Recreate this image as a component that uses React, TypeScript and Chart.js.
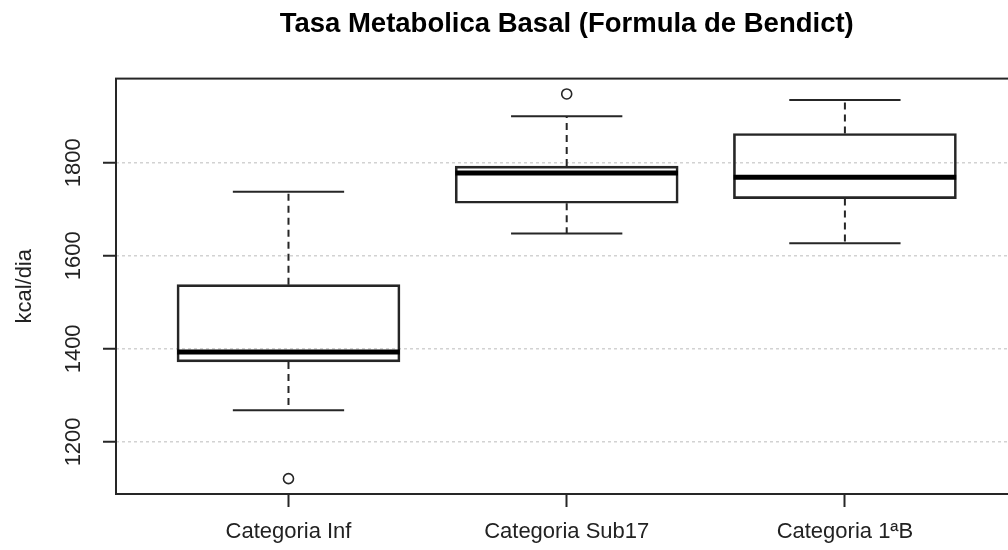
import { useEffect, useRef } from "react";
import { Chart, registerables } from "chart.js";

Chart.register(...registerables);

// Boxplot of basal metabolic rate per team category
const CHART_TITLE = "Tasa Metabolica Basal (Formula de Bendict)";
const Y_TITLE = "kcal/dia";
const CATEGORIES = ["Categoria Inf", "Categoria Sub17", "Categoria 1ªB"];
const POSITIONS = [1, 2, 3];
const WHISKER_LOW = [1268, 1648, 1627];
const Q1 = [1372, 1713, 1723];
const MEDIAN = [1393, 1778, 1769];
const Q3 = [1538, 1793, 1863];
const WHISKER_HIGH = [1738, 1900, 1935];
const OUTLIER_POS = [1, 2];
const OUTLIER_VALUES = [1121, 1948];
const Y_TICKS = [1200, 1400, 1600, 1800];
const Y_MIN = 1088;
const Y_MAX = 1981;
const X_MIN = 0.38;
const X_MAX = 3.62;

const BOX_WIDTH = 0.8; // in category units
const INK = "#262626";
const FONT = "'Liberation Sans', Arial, Helvetica, sans-serif";

const boxplotPlugin = {
  id: "boxplotExtras",
  afterDatasetsDraw(chart: any) {
    const { ctx } = chart;
    const xs = chart.scales.x;
    const ys = chart.scales.y;
    ctx.save();
    ctx.strokeStyle = INK;
    ctx.lineCap = "butt";
    const seg = (x1: number, y1: number, x2: number, y2: number) => {
      ctx.beginPath();
      ctx.moveTo(x1, y1);
      ctx.lineTo(x2, y2);
      ctx.stroke();
    };
    POSITIONS.forEach((pos, i) => {
      const cx = xs.getPixelForValue(pos);
      const half = xs.getPixelForValue(pos + BOX_WIDTH / 2) - cx;
      const capHalf = half / 2;
      const yLo = ys.getPixelForValue(WHISKER_LOW[i]);
      const yQ1 = ys.getPixelForValue(Q1[i]);
      const yMed = ys.getPixelForValue(MEDIAN[i]);
      const yQ3 = ys.getPixelForValue(Q3[i]);
      const yHi = ys.getPixelForValue(WHISKER_HIGH[i]);

      // dashed whiskers
      ctx.lineWidth = 2;
      ctx.setLineDash([7, 5]);
      seg(cx, yQ3, cx, yHi);
      seg(cx, yQ1, cx, yLo);
      ctx.setLineDash([]);

      // whisker caps
      seg(cx - capHalf, yHi, cx + capHalf, yHi);
      seg(cx - capHalf, yLo, cx + capHalf, yLo);

      // median
      ctx.lineWidth = 5;
      ctx.strokeStyle = "#000";
      seg(cx - half, yMed, cx + half, yMed);
      ctx.strokeStyle = INK;
    });
    ctx.restore();
  },
  afterDraw(chart: any) {
    const { ctx, chartArea: a } = chart;
    ctx.save();
    ctx.strokeStyle = INK;
    ctx.lineWidth = 2;
    ctx.strokeRect(a.left, a.top, a.right - a.left, a.bottom - a.top);
    ctx.restore();
  },
};

export default function App() {
  const canvasRef = useRef<HTMLCanvasElement | null>(null);

  useEffect(() => {
    const canvas = canvasRef.current;
    if (!canvas) return;

    const chart = new Chart(canvas, {
      type: "bar",
      data: {
        datasets: [
          {
            type: "bar",
            data: POSITIONS.map((p, i) => ({ x: p, y: [Q1[i], Q3[i]] })) as any,
            backgroundColor: "rgba(0,0,0,0)",
            borderColor: INK,
            borderWidth: 2,
            borderSkipped: false,
            barThickness: 223,
            grouped: false,
          } as any,
          {
            type: "scatter",
            data: OUTLIER_POS.map((p, i) => ({ x: p, y: OUTLIER_VALUES[i] })),
            pointStyle: "circle",
            pointRadius: 5,
            pointBorderWidth: 1.6,
            pointBorderColor: INK,
            pointBackgroundColor: "#fff",
            showLine: false,
          } as any,
        ],
      },
      options: {
        responsive: false,
        devicePixelRatio: 1,
        animation: false,
        layout: { padding: { left: 0, right: 6, top: 0, bottom: 0 } },
        plugins: {
          legend: { display: false },
          tooltip: { enabled: false },
          title: {
            display: true,
            text: CHART_TITLE,
            fullSize: false,
            color: "#000",
            font: { family: FONT, size: 27.5, weight: "bold" },
            padding: { top: 7.5, bottom: 38.1 },
          },
        },
        scales: {
          x: {
            type: "linear",
            offset: false,
            min: X_MIN,
            max: X_MAX,
            afterBuildTicks: (scale: any) => {
              scale.ticks = POSITIONS.map((v) => ({ value: v }));
            },
            afterFit: (scale: any) => {
              scale.height = 56;
            },
            ticks: {
              autoSkip: false,
              maxRotation: 0,
              minRotation: 0,
              padding: 12,
              color: "#222",
              font: { family: FONT, size: 22 },
              callback: (v: any) => {
                const idx = POSITIONS.indexOf(Number(v));
                return idx >= 0 ? CATEGORIES[idx] : "";
              },
            },
            grid: {
              offset: false,
              drawOnChartArea: false,
              drawTicks: true,
              tickLength: 13,
              tickColor: INK,
              tickWidth: 2,
            },
            border: { display: false },
          },
          y: {
            type: "linear",
            min: Y_MIN,
            max: Y_MAX,
            afterBuildTicks: (scale: any) => {
              scale.ticks = Y_TICKS.map((v) => ({ value: v }));
            },
            afterFit: (scale: any) => {
              scale.width = 116;
            },
            ticks: {
              minRotation: 90,
              maxRotation: 90,
              crossAlign: "center",
              padding: 5,
              color: "#222",
              font: { family: FONT, size: 22 },
              callback: (v: any) => String(v),
            },
            grid: {
              drawOnChartArea: true,
              drawTicks: true,
              color: "#d2d2d2",
              lineWidth: 1.5,
              tickLength: 13,
              tickColor: INK,
              tickWidth: 2,
            },
            border: { display: false, dash: [3, 3] },
            title: {
              display: true,
              text: Y_TITLE,
              color: "#222",
              font: { family: FONT, size: 22 },
              padding: { top: 12, bottom: 0 },
            },
          },
        },
      } as any,
      plugins: [boxplotPlugin],
    });

    return () => chart.destroy();
  }, []);

  return (
    <div
      style={{
        position: "absolute",
        left: 0,
        top: 0,
        width: 1008,
        height: 550,
        overflow: "hidden",
        background: "#fff",
      }}
    >
      <canvas
        ref={canvasRef}
        width={1024}
        height={550}
        style={{ display: "block", width: 1024, height: 550 }}
      />
    </div>
  );
}
